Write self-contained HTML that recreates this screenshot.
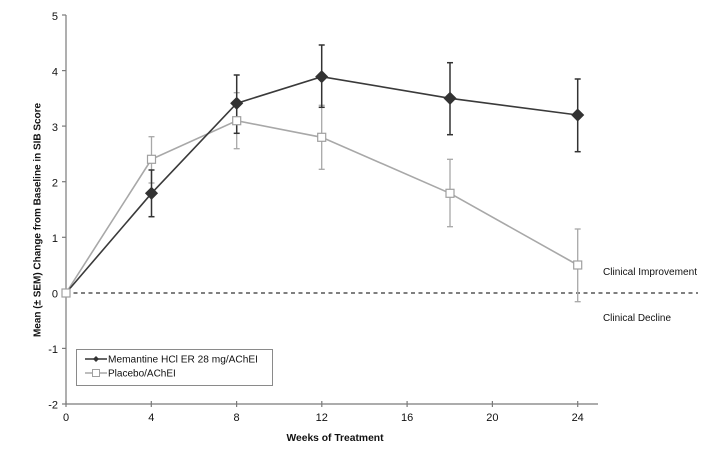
<!DOCTYPE html>
<html><head><meta charset="utf-8"><style>
html,body{margin:0;padding:0;background:#fff;}
svg{display:block;}
text{font-family:"Liberation Sans",Arial,sans-serif;fill:#111;}
</style></head><body>
<svg width="720" height="452" viewBox="0 0 720 452" xmlns="http://www.w3.org/2000/svg">
<rect width="720" height="452" fill="#fff"/>
<!-- axes -->
<g stroke="#7a7a7a" stroke-width="1.2" fill="none">
<line x1="66" y1="15" x2="66" y2="404"/>
<line x1="66" y1="404" x2="598" y2="404"/>
<!-- y ticks -->
<line x1="62" y1="15" x2="66" y2="15"/>
<line x1="62" y1="70.6" x2="66" y2="70.6"/>
<line x1="62" y1="126.1" x2="66" y2="126.1"/>
<line x1="62" y1="181.7" x2="66" y2="181.7"/>
<line x1="62" y1="237.3" x2="66" y2="237.3"/>
<line x1="62" y1="292.9" x2="66" y2="292.9"/>
<line x1="62" y1="348.4" x2="66" y2="348.4"/>
<line x1="62" y1="404" x2="66" y2="404"/>
<!-- x ticks -->
<line x1="66" y1="401" x2="66" y2="407"/>
<line x1="151.3" y1="401" x2="151.3" y2="407"/>
<line x1="236.6" y1="401" x2="236.6" y2="407"/>
<line x1="321.8" y1="401" x2="321.8" y2="407"/>
<line x1="407.1" y1="401" x2="407.1" y2="407"/>
<line x1="492.4" y1="401" x2="492.4" y2="407"/>
<line x1="577.7" y1="401" x2="577.7" y2="407"/>
</g>
<!-- y tick labels -->
<g font-size="11" text-anchor="end">
<text x="58" y="20">5</text>
<text x="58" y="75.5">4</text>
<text x="58" y="131">3</text>
<text x="58" y="186.5">2</text>
<text x="58" y="242">1</text>
<text x="58" y="297.5">0</text>
<text x="58" y="353">-1</text>
<text x="58" y="408.5">-2</text>
</g>
<!-- x tick labels -->
<g font-size="11" text-anchor="middle">
<text x="66" y="421">0</text>
<text x="151.3" y="421">4</text>
<text x="236.6" y="421">8</text>
<text x="321.8" y="421">12</text>
<text x="407.1" y="421">16</text>
<text x="492.4" y="421">20</text>
<text x="577.7" y="421">24</text>
</g>
<text x="335" y="441" font-size="10" font-weight="bold" text-anchor="middle" textLength="97" lengthAdjust="spacingAndGlyphs">Weeks of Treatment</text>
<text transform="translate(40.5,220) rotate(-90)" font-size="10" font-weight="bold" text-anchor="middle" textLength="234" lengthAdjust="spacingAndGlyphs">Mean (± SEM) Change from Baseline in SIB Score</text>
<!-- zero dashed line -->
<line x1="66" y1="293" x2="698" y2="293" stroke="#333" stroke-width="1.3" stroke-dasharray="4,3.5"/>
<text x="603" y="275" font-size="10" textLength="94" lengthAdjust="spacingAndGlyphs">Clinical Improvement</text>
<text x="603" y="321" font-size="10" textLength="68" lengthAdjust="spacingAndGlyphs">Clinical Decline</text>

<!-- placebo error bars -->
<g stroke="#a8a8a8" stroke-width="1.3" fill="none">
<line x1="151.5" y1="136.7" x2="151.5" y2="183"/><line x1="148.5" y1="136.7" x2="154.5" y2="136.7"/><line x1="148.5" y1="183" x2="154.5" y2="183"/>
<line x1="236.7" y1="92.7" x2="236.7" y2="148.7"/><line x1="233.7" y1="92.7" x2="239.7" y2="92.7"/><line x1="233.7" y1="148.7" x2="239.7" y2="148.7"/>
<line x1="321.7" y1="105.3" x2="321.7" y2="169.3"/><line x1="318.7" y1="105.3" x2="324.7" y2="105.3"/><line x1="318.7" y1="169.3" x2="324.7" y2="169.3"/>
<line x1="450" y1="159.3" x2="450" y2="226.7"/><line x1="447" y1="159.3" x2="453" y2="159.3"/><line x1="447" y1="226.7" x2="453" y2="226.7"/>
<line x1="577.7" y1="229" x2="577.7" y2="301.7"/><line x1="574.7" y1="229" x2="580.7" y2="229"/><line x1="574.7" y1="301.7" x2="580.7" y2="301.7"/>
</g>
<!-- memantine error bars -->
<g stroke="#333" stroke-width="1.5" fill="none">
<line x1="151.5" y1="170" x2="151.5" y2="216.7"/><line x1="148.5" y1="170" x2="154.5" y2="170"/><line x1="148.5" y1="216.7" x2="154.5" y2="216.7"/>
<line x1="236.7" y1="75" x2="236.7" y2="133.3"/><line x1="233.7" y1="75" x2="239.7" y2="75"/><line x1="233.7" y1="133.3" x2="239.7" y2="133.3"/>
<line x1="321.7" y1="45" x2="321.7" y2="107.3"/><line x1="318.7" y1="45" x2="324.7" y2="45"/><line x1="318.7" y1="107.3" x2="324.7" y2="107.3"/>
<line x1="450" y1="62.7" x2="450" y2="134.7"/><line x1="447" y1="62.7" x2="453" y2="62.7"/><line x1="447" y1="134.7" x2="453" y2="134.7"/>
<line x1="577.7" y1="79" x2="577.7" y2="151.7"/><line x1="574.7" y1="79" x2="580.7" y2="79"/><line x1="574.7" y1="151.7" x2="580.7" y2="151.7"/>
</g>
<!-- placebo line -->
<polyline points="66,293 151.5,159.3 236.7,120.7 321.7,137.3 450,193.3 577.7,265" fill="none" stroke="#a8a8a8" stroke-width="1.6"/>
<!-- memantine line -->
<polyline points="66,293 151.5,193.3 236.7,103.3 321.7,76.7 450,98.3 577.7,115" fill="none" stroke="#3a3a3a" stroke-width="1.6"/>
<!-- placebo markers -->
<g fill="#fff" stroke="#a0a0a0" stroke-width="1.2">
<rect x="62" y="289" width="8" height="8"/>
<rect x="147.5" y="155.3" width="8" height="8"/>
<rect x="232.7" y="116.7" width="8" height="8"/>
<rect x="317.7" y="133.3" width="8" height="8"/>
<rect x="446" y="189.3" width="8" height="8"/>
<rect x="573.7" y="261" width="8" height="8"/>
</g>
<!-- memantine markers -->
<g fill="#333" stroke="#333" stroke-width="0.8">
<polygon points="151.5,187.3 157.5,193.3 151.5,199.3 145.5,193.3"/>
<polygon points="236.7,97.3 242.7,103.3 236.7,109.3 230.7,103.3"/>
<polygon points="321.7,70.7 327.7,76.7 321.7,82.7 315.7,76.7"/>
<polygon points="450,92.3 456,98.3 450,104.3 444,98.3"/>
<polygon points="577.7,109 583.7,115 577.7,121 571.7,115"/>
</g>
<!-- legend -->
<rect x="76.5" y="349.5" width="196" height="36" fill="#fff" stroke="#8a8a8a" stroke-width="1"/>
<line x1="85" y1="359" x2="107" y2="359" stroke="#333" stroke-width="1.4"/>
<polygon points="96,356 99,359 96,362 93,359" fill="#333"/>
<line x1="85" y1="373" x2="107" y2="373" stroke="#a8a8a8" stroke-width="1.4"/>
<rect x="92.5" y="369.5" width="7" height="7" fill="#fff" stroke="#a0a0a0" stroke-width="1"/>
<text x="108" y="362.5" font-size="10" textLength="150" lengthAdjust="spacingAndGlyphs">Memantine HCl ER 28 mg/AChEI</text>
<text x="108" y="376.5" font-size="10">Placebo/AChEI</text>
</svg>
</body></html>
